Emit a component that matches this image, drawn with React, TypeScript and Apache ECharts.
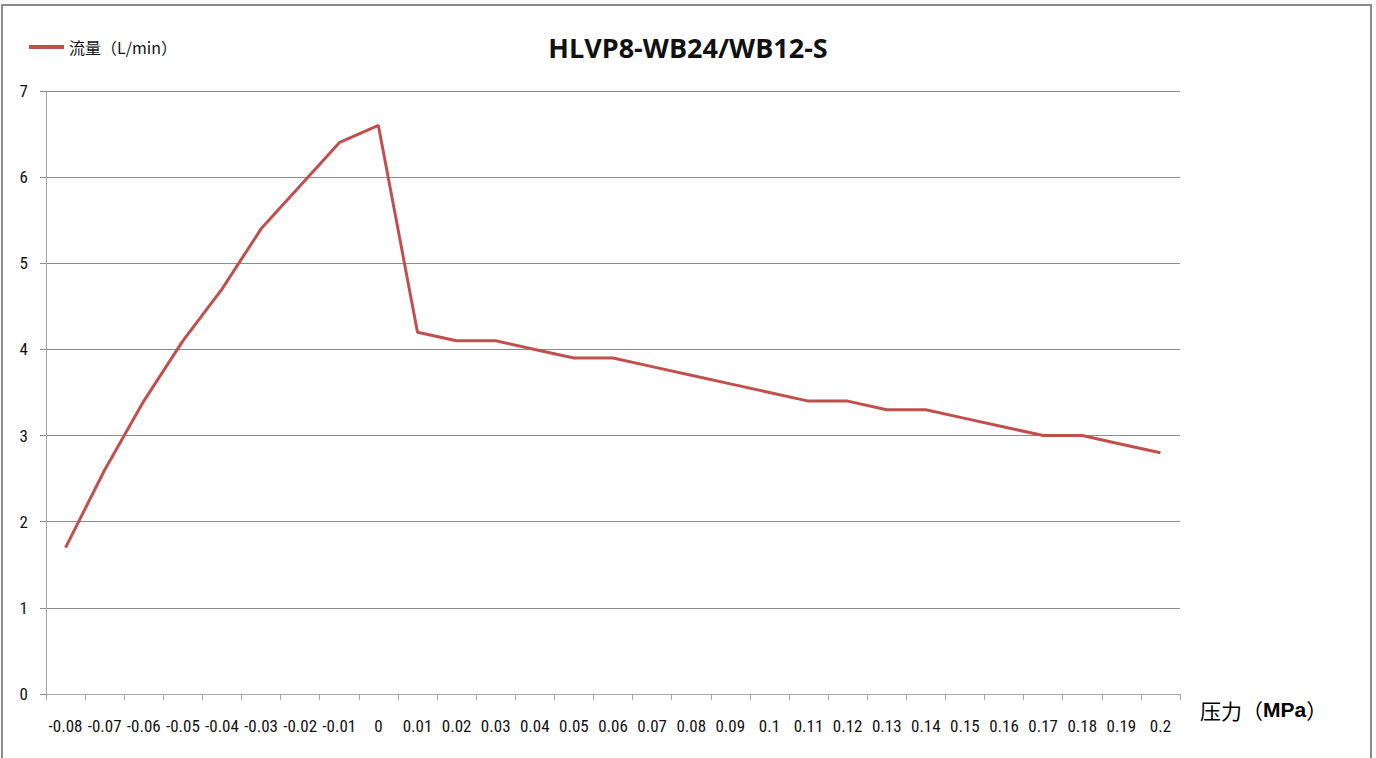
import React, { useEffect, useRef } from "react";
import * as echarts from "echarts";

const categories: string[] = [
  "-0.08", "-0.07", "-0.06", "-0.05", "-0.04", "-0.03", "-0.02", "-0.01", "0",
  "0.01", "0.02", "0.03", "0.04", "0.05", "0.06", "0.07", "0.08", "0.09", "0.1",
  "0.11", "0.12", "0.13", "0.14", "0.15", "0.16", "0.17", "0.18", "0.19", "0.2",
];

const flow: number[] = [
  1.7, 2.6, 3.4, 4.1, 4.7, 5.4, 5.9, 6.4, 6.6,
  4.2, 4.1, 4.1, 4.0, 3.9, 3.9, 3.8, 3.7, 3.6, 3.5,
  3.4, 3.4, 3.3, 3.3, 3.2, 3.1, 3.0, 3.0, 2.9, 2.8,
];

const seriesName = "流量（L/min）";
const titleText = "HLVP8-WB24/WB12-S";

export default function App() {
  const ref = useRef<HTMLDivElement>(null);
  useEffect(() => {
    if (!ref.current) return;
    const chart = echarts.init(ref.current, undefined, { renderer: "svg" });
    const labelFont = "'Liberation Sans Narrow', 'Roboto Condensed', Roboto, sans-serif";
    chart.setOption({
      animation: false,
      backgroundColor: "#ffffff",
      title: {
        text: titleText,
        left: "center",
        top: 29,
        textStyle: {
          fontSize: 27,
          fontWeight: "bold",
          color: "#111",
          fontFamily: "'Open Sans', 'Liberation Sans', sans-serif",
        },
      },
      legend: {
        left: 24,
        top: 34,
        icon: "rect",
        itemWidth: 35,
        itemHeight: 4,
        itemGap: 10,
        textStyle: {
          fontSize: 16,
          color: "#111",
          fontFamily: "'Noto Sans CJK SC', sans-serif",
        },
        data: [seriesName],
      },
      graphic: [
        {
          type: "rect",
          shape: { x: 2, y: 5, width: 1369, height: 800 },
          style: { fill: "none", stroke: "#8a8a8a", lineWidth: 2 },
          silent: true,
        },
      ],
      grid: { left: 46, right: 196, top: 91, bottom: 64 },
      xAxis: {
        type: "category",
        data: categories,
        boundaryGap: true,
        name: "{n|压力（}{b|MPa}{n|）}",
        nameLocation: "end",
        nameGap: 20,
        nameTextStyle: {
          verticalAlign: "top",
          padding: [5, 0, 0, 0],
          rich: {
            n: { fontSize: 21, color: "#000", fontFamily: "'Noto Sans CJK SC', sans-serif" },
            b: { fontSize: 21, color: "#000", fontWeight: "bold", fontFamily: "'Liberation Sans', Arial, sans-serif" },
          },
        },
        axisLine: { show: true, lineStyle: { color: "#a6a6a6", width: 1 } },
        axisTick: { show: true, alignWithLabel: false, length: 6, lineStyle: { color: "#a6a6a6" } },
        axisLabel: {
          interval: 0,
          margin: 23,
          fontSize: 17,
          color: "#111",
          fontFamily: labelFont,
        },
        splitLine: { show: false },
      },
      yAxis: {
        type: "value",
        min: 0,
        max: 7,
        interval: 1,
        axisLine: { show: true, lineStyle: { color: "#a6a6a6", width: 1 } },
        axisTick: { show: true, length: 6, lineStyle: { color: "#8c8c8c" } },
        axisLabel: {
          margin: 18,
          fontSize: 17,
          color: "#111",
          fontFamily: labelFont,
        },
        splitLine: { show: true, lineStyle: { color: "#8c8c8c", width: 1 } },
      },
      series: [
        {
          name: seriesName,
          type: "line",
          data: flow,
          symbol: "none",
          lineStyle: { color: "#C0504D", width: 3 },
          itemStyle: { color: "#C0504D" },
        },
      ],
    });
    return () => chart.dispose();
  }, []);
  return (
    <div
      ref={ref}
      style={{ position: "fixed", left: 0, top: 0, width: 1376, height: 758 }}
    />
  );
}
